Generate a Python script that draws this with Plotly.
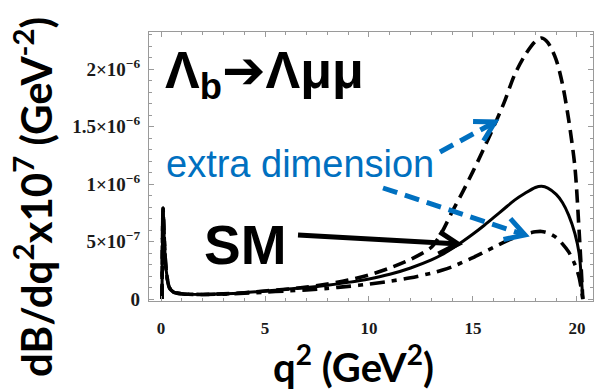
import math
import plotly.graph_objects as go

# ---------------- data (values in units of 1e-6 GeV^-2) ----------------
q2 = [0.045, 0.07, 0.1, 0.15, 0.25, 0.4, 0.6, 1, 2, 3, 4, 5, 6, 7, 8, 9, 10, 11, 12, 13,
      13.5, 14, 14.5, 15, 15.5, 16, 16.5, 17, 17.5, 18, 18.3, 18.6, 19, 19.3, 19.6, 19.9,
      20.1, 20.28]

sm = [0, 0.5, 0.79, 0.55, 0.25, 0.1, 0.06, 0.045, 0.04, 0.045, 0.055, 0.07, 0.085, 0.1,
      0.12, 0.145, 0.175, 0.215, 0.27, 0.34, 0.385, 0.44, 0.5, 0.565, 0.635, 0.71, 0.785,
      0.86, 0.92, 0.97, 0.98, 0.965, 0.91, 0.84, 0.73, 0.57, 0.4, 0]

extra_dim_high = [0, 0.5, 0.79, 0.55, 0.25, 0.1, 0.06, 0.045, 0.04, 0.045, 0.055, 0.07,
                  0.085, 0.105, 0.13, 0.165, 0.21, 0.27, 0.345, 0.45, 0.58, 0.76, 0.93,
                  1.11, 1.3, 1.5, 1.71, 1.95, 2.12, 2.24, 2.27, 2.23, 2.08, 1.87, 1.56,
                  1.15, 0.6, 0]

extra_dim_low = [0, 0.5, 0.79, 0.55, 0.25, 0.1, 0.06, 0.045, 0.04, 0.043, 0.05, 0.06, 0.07,
                 0.08, 0.093, 0.11, 0.13, 0.155, 0.185, 0.225, 0.25, 0.28, 0.32, 0.36,
                 0.405, 0.45, 0.495, 0.535, 0.565, 0.585, 0.588, 0.575, 0.535, 0.48, 0.41,
                 0.3, 0.19, 0]

scale = 1e-6

y_tickvals = [0, 5e-7, 1e-6, 1.5e-6, 2e-6]
y_ticktext = ["0", "5×10<sup>−7</sup>", "1×10<sup>−6</sup>", "1.5×10<sup>−6</sup>",
              "2×10<sup>−6</sup>"]
x_tickvals = [0, 5, 10, 15, 20]
x_ticktext = ["0", "5", "10", "15", "20"]

# ---------------- layout geometry ----------------
W, H = 598, 391
L, R, T, B = 149, 593, 32, 301


def px(xp, yp):
    return (xp - L) / (R - L), (B - yp) / (B - T)


fig = go.Figure()
fig.add_trace(go.Scatter(x=q2, y=[v * scale for v in extra_dim_high], mode="lines",
                         line=dict(color="black", width=3.6, dash="13px,7px", shape="spline", smoothing=0.8)))
fig.add_trace(go.Scatter(x=q2, y=[v * scale for v in extra_dim_low], mode="lines",
                         line=dict(color="black", width=3.6, dash="15px,7px,5px,7px", shape="spline", smoothing=0.8)))
fig.add_trace(go.Scatter(x=q2, y=[v * scale for v in sm], mode="lines",
                         line=dict(color="black", width=3, shape="spline", smoothing=0.8)))

axis_col = "#9a9a9a"
fig.update_xaxes(range=[-0.577, 20.77], tickmode="array", tickvals=x_tickvals,
                 ticktext=["<b>%s</b>" % t for t in x_ticktext],
                 showline=True, linecolor=axis_col, linewidth=1.2, mirror="ticks",
                 ticks="inside", ticklen=5, tickcolor=axis_col, showgrid=False, zeroline=False,
                 tickfont=dict(family="Liberation Serif", size=17, color="#1a1a1a"),
                 ticklabelstandoff=11,
                 minor=dict(tickmode="linear", tick0=0, dtick=1, ticks="inside", ticklen=3,
                            tickcolor=axis_col, showgrid=False))
fig.update_yaxes(range=[-0.017e-6, 2.322e-6], tickmode="array", tickvals=y_tickvals,
                 ticktext=["<b>%s</b>" % t for t in y_ticktext],
                 showline=True, linecolor=axis_col, linewidth=1.2, mirror="ticks",
                 ticks="inside", ticklen=5, tickcolor=axis_col, showgrid=False, zeroline=False,
                 tickfont=dict(family="Liberation Serif", size=19, color="#1a1a1a"),
                 ticklabelstandoff=4,
                 minor=dict(tickmode="linear", tick0=0, dtick=1e-7, ticks="inside", ticklen=3,
                            tickcolor=axis_col, showgrid=False))

annotations = []
shapes = []

# texts
ax_, ay_ = px(163, 73)
annotations.append(dict(xref="paper", yref="paper", x=ax_, y=ay_, xanchor="left", yanchor="middle",
                        text="<b>Λ<sub>b</sub></b><span style='font-family:DejaVu Sans'>➔</span><b>Λμμ</b>",
                        showarrow=False,
                        font=dict(family="Liberation Sans", size=52, color="black")))
ax_, ay_ = px(164, 164)
annotations.append(dict(xref="paper", yref="paper", x=ax_, y=ay_, xanchor="left", yanchor="middle",
                        text="extra dimension", showarrow=False,
                        font=dict(family="Liberation Sans", size=38, color="#0070C0")))
ax_, ay_ = px(202, 245)
annotations.append(dict(xref="paper", yref="paper", x=ax_, y=ay_, xanchor="left", yanchor="middle",
                        text="<b>SM</b>", showarrow=False,
                        font=dict(family="Liberation Sans", size=55, color="black")))

# axis titles
ax_, ay_ = px(33, 197)
annotations.append(dict(xref="paper", yref="paper", x=ax_, y=ay_, xanchor="center", yanchor="middle",
                        textangle=-90, showarrow=False,
                        text="<b>dB/dq<sup>2</sup>x10<sup>7</sup> (GeV<sup>-2</sup>)</b>",
                        font=dict(family="Lato", size=42, color="black")))
ax_, ay_ = px(353, 364)
annotations.append(dict(xref="paper", yref="paper", x=ax_, y=ay_, xanchor="center", yanchor="middle",
                        showarrow=False, text="<b>q<sup>2</sup> (GeV<sup>2</sup>)</b>",
                        font=dict(family="Lato", size=40, color="black")))


def arrow(tail, tip, color, dashed):
    dx, dy = tip[0] - tail[0], tip[1] - tail[1]
    n = math.hypot(dx, dy)
    ux, uy = dx / n, dy / n
    nx, ny = -uy, ux
    x0, y0 = px(*tail)
    x1, y1 = px(tip[0] - ux * 3, tip[1] - uy * 3)
    shapes.append(dict(type="line", xref="paper", yref="paper", x0=x0, y0=y0, x1=x1, y1=y1,
                       line=dict(color=color, width=5, dash="15px,8px" if dashed else "solid")))
    hl, hw = 19, 11
    a1 = px(tip[0] - ux * hl + nx * hw, tip[1] - uy * hl + ny * hw)
    a2 = px(tip[0] - ux * hl - nx * hw, tip[1] - uy * hl - ny * hw)
    tp = px(*tip)
    path = "M %f,%f L %f,%f L %f,%f" % (a1[0], a1[1], tp[0], tp[1], a2[0], a2[1])
    shapes.append(dict(type="path", xref="paper", yref="paper", path=path,
                       line=dict(color=color, width=5)))


arrow((440, 152), (495, 122), "#0070C0", True)
arrow((383, 188), (525, 235), "#0070C0", True)
arrow((298, 235), (458, 244), "black", False)

fig.update_layout(width=W, height=H, margin=dict(l=L, r=W - R, t=T, b=H - B),
                  paper_bgcolor="white", plot_bgcolor="white", showlegend=False,
                  annotations=annotations, shapes=shapes)

fig.write_html("out.html", config={"displayModeBar": False},
               post_script="document.body.style.margin='0px';document.body.style.padding='0px';")
